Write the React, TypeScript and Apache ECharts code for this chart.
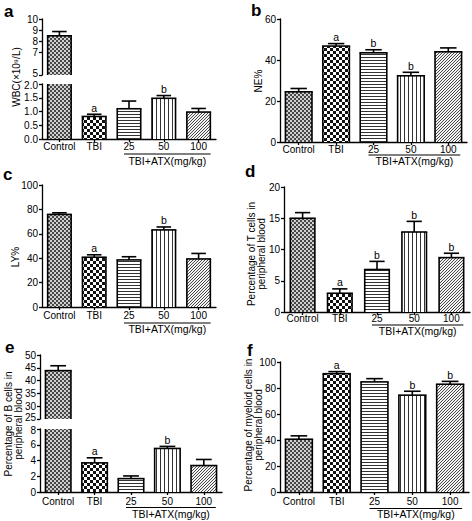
import React, { useEffect, useRef } from 'react';
import * as echarts from 'echarts';

const FONT = '"Liberation Sans", Arial, sans-serif';

const categories = ['Control', 'TBI', '25', '50', '100'];
const groupLabel = 'TBI+ATX(mg/kg)';

// a: WBC
const wbcMean = [8.5, 0.82, 1.1, 1.48, 0.98];
const wbcSem = [0.38, 0.08, 0.28, 0.1, 0.13];
const wbcSig = ['', 'a', '', 'b', ''];
// b: NE%
const neMean = [24.5, 46.8, 43.5, 32.3, 44.0];
const neSem = [1.6, 1.2, 1.5, 1.7, 1.9];
const neSig = ['', 'a', 'b', 'b', ''];
// c: LY%
const lyMean = [75.9, 40.8, 38.6, 63.2, 39.4];
const lySem = [1.3, 2.0, 2.6, 2.4, 4.5];
const lySig = ['', 'a', '', 'b', ''];
// d: T cells
const tMean = [15.0, 3.0, 6.8, 12.8, 8.7];
const tSem = [0.9, 0.7, 1.3, 1.7, 0.7];
const tSig = ['', 'a', 'b', 'b', 'b'];
// e: B cells
const bMean = [43.9, 3.7, 1.7, 5.53, 3.36];
const bSem = [1.9, 0.64, 0.34, 0.26, 0.77];
const bSig = ['', 'a', '', 'b', ''];
// f: myeloid cells
const myMean = [40.6, 91.0, 84.7, 74.5, 82.9];
const mySem = [2.6, 1.6, 2.5, 3.0, 2.2];
const mySig = ['', 'a', '', 'b', 'b'];

// axis ranges (value axes): [min, max, interval]
const wbcUpperRange = [5, 10, 1];
const wbcLowerRange = [0, 2, 0.5];
const neRange = [0, 60, 20];
const lyRange = [0, 100, 20];
const tRange = [0, 20, 5];
const bUpperRange = [25, 50, 5];
const bLowerRange = [0, 8, 2];
const myRange = [0, 100, 20];

type GridDef = { box: number[]; range: number[]; decimals: number; bottom: boolean; part: string };
type Panel = {
  letter: string; letterPos: number[];
  title: string; titlePos: number[];
  mean: number[]; sem: number[]; sig: string[];
  grids: GridDef[]; ratio: number; labelMargin: number; ulOff: number; glOff: number;
};

const panels: Panel[] = [
  {
    letter: 'a', letterPos: [4, 17], title: 'WBC(×10⁹/L)', titlePos: [16, 77],
    mean: wbcMean, sem: wbcSem, sig: wbcSig,
    grids: [
      { box: [42, 19, 174, 56], range: wbcUpperRange, decimals: 0, bottom: false, part: 'upper' },
      { box: [42, 84, 174, 55], range: wbcLowerRange, decimals: 1, bottom: true, part: 'lower' },
    ],
    ratio: 0.675, labelMargin: 2, ulOff: 15, glOff: 22,
  },
  {
    letter: 'b', letterPos: [251, 16], title: 'NE%', titlePos: [258, 81],
    mean: neMean, sem: neSem, sig: neSig,
    grids: [{ box: [280, 19, 187, 123], range: neRange, decimals: 0, bottom: true, part: 'full' }],
    ratio: 0.71, labelMargin: 2, ulOff: 13, glOff: 19,
  },
  {
    letter: 'c', letterPos: [3, 180], title: 'LY%', titlePos: [15, 257],
    mean: lyMean, sem: lySem, sig: lySig,
    grids: [{ box: [42, 185, 174, 122], range: lyRange, decimals: 0, bottom: true, part: 'full' }],
    ratio: 0.675, labelMargin: 3, ulOff: 16, glOff: 22,
  },
  {
    letter: 'd', letterPos: [245, 177], title: 'Percentage of T cells in\nperipheral blood', titlePos: [256, 254],
    mean: tMean, sem: tSem, sig: tSig,
    grids: [{ box: [284, 187, 186, 125], range: tRange, decimals: 0, bottom: true, part: 'full' }],
    ratio: 0.66, labelMargin: 1, ulOff: 13, glOff: 19,
  },
  {
    letter: 'e', letterPos: [5, 353], title: 'Percentage of B cells in\nperipheral blood', titlePos: [13, 424],
    mean: bMean, sem: bSem, sig: bSig,
    grids: [
      { box: [40, 355, 182, 64], range: bUpperRange, decimals: 0, bottom: false, part: 'upper' },
      { box: [40, 429, 182, 63], range: bLowerRange, decimals: 0, bottom: true, part: 'lower' },
    ],
    ratio: 0.7, labelMargin: 4, ulOff: 15.5, glOff: 21.5,
  },
  {
    letter: 'f', letterPos: [247, 356], title: 'Percentage of myeloid cells in\nperipheral blood', titlePos: [253, 425],
    mean: myMean, sem: mySem, sig: mySig,
    grids: [{ box: [280, 362, 189, 130], range: myRange, decimals: 0, bottom: true, part: 'full' }],
    ratio: 0.71, labelMargin: 4, ulOff: 16.5, glOff: 22,
  },
];

function makePattern(w: number, h: number, dark: string, light: string, isDark: (x: number, y: number) => boolean) {
  const c = document.createElement('canvas');
  c.width = w;
  c.height = h;
  const ctx = c.getContext('2d')!;
  ctx.fillStyle = light;
  ctx.fillRect(0, 0, w, h);
  ctx.fillStyle = dark;
  for (let y = 0; y < h; y++) for (let x = 0; x < w; x++) if (isDark(x, y)) ctx.fillRect(x, y, 1, 1);
  return { image: c.toDataURL(), repeat: 'repeat', imageWidth: w, imageHeight: h } as any;
}

export default function App() {
  const ref = useRef<HTMLDivElement>(null);
  useEffect(() => {
    const el = ref.current!;
    const chart = echarts.init(el, undefined, { renderer: 'svg', width: 472, height: 521 });

    const patterns = [
      makePattern(4, 4, '#474747', '#cfcfcf', (x, y) => ((x >> 1) + (y >> 1)) % 2 === 0),
      makePattern(6, 6, '#111111', '#ffffff', (x, y) => (Math.floor(x / 3) + Math.floor(y / 3)) % 2 === 0),
      makePattern(2, 3, '#333333', '#ffffff', (_x, y) => y === 0),
      makePattern(4, 2, '#333333', '#ffffff', (x) => x === 0),
      makePattern(3, 3, '#4a4a4a', '#f2f2f2', (x, y) => (x + y) % 3 === 2),
    ];

    const axisLine = { color: '#000', width: 1.3 };
    const grids: any[] = [];
    const xAxes: any[] = [];
    const yAxes: any[] = [];
    const series: any[] = [];
    const bottomIndex: number[] = [];

    panels.forEach((p) => {
      p.grids.forEach((g) => {
        const k = grids.length;
        grids.push({ left: g.box[0], top: g.box[1], width: g.box[2], height: g.box[3], containLabel: false });
        if (g.bottom) bottomIndex.push(k);
        xAxes.push({
          type: 'category', gridIndex: k, data: categories, show: g.bottom, boundaryGap: true,
          axisLine: { show: true, onZero: false, lineStyle: axisLine },
          axisTick: { show: true, alignWithLabel: true, length: 3, lineStyle: axisLine },
          axisLabel: { color: '#000', fontSize: 10, fontFamily: FONT, margin: p.labelMargin, interval: 0 },
          splitLine: { show: false },
        });
        const dec = g.decimals;
        const gmin = g.range[0];
        const gmax = g.range[1];
        const part = g.part;
        yAxes.push({
          type: 'value', gridIndex: k, min: gmin, max: gmax, interval: g.range[2],
          axisLine: { show: true, onZero: false, lineStyle: axisLine },
          axisTick: { show: true, length: 3, lineStyle: axisLine },
          axisLabel: {
            color: '#000', fontSize: 10, lineHeight: 8, fontFamily: FONT, margin: 4,
            showMinLabel: true, showMaxLabel: true, hideOverlap: false,
            formatter: (v: number) => {
              const t = v.toFixed(dec);
              if (part === 'upper' && Math.abs(v - gmin) < 1e-9) return `{up|${t}}`;
              if (part === 'lower' && Math.abs(v - gmax) < 1e-9) return `{dn|${t}}`;
              return t;
            },
            rich: {
              up: { fontSize: 10, lineHeight: 8, fontFamily: FONT, color: '#000', padding: [0, 0, 3, 0] },
              dn: { fontSize: 10, lineHeight: 8, fontFamily: FONT, color: '#000', padding: [3, 0, 0, 0] },
            },
          },
          splitLine: { show: false },
        });
        const sig = p.sig;
        const ratio = p.ratio;
        series.push({
          type: 'custom', coordinateSystem: 'cartesian2d', xAxisIndex: k, yAxisIndex: k,
          silent: true, z: 3,
          encode: { x: 0, y: 1 },
          data: p.mean.map((m, i) => [i, m, p.sem[i]]),
          renderItem: (params: any, api: any) => {
            const idx = api.value(0);
            const val = api.value(1);
            const err = api.value(2);
            const cs = params.coordSys;
            const band = api.size([1, 0])[0];
            const w = band * ratio;
            const pt = api.coord([idx, val]);
            const cx = pt[0];
            const yTop = pt[1];
            const yBase = api.coord([idx, 0])[1];
            const gTop = cs.y;
            const gBot = cs.y + cs.height;
            const top = Math.max(yTop, gTop);
            const bot = Math.min(yBase, gBot);
            const x0 = cx - w / 2;
            const x1 = cx + w / 2;
            const children: any[] = [];
            const stroke = { stroke: '#000', lineWidth: 1.6 };
            if (bot > top) {
              children.push({ type: 'rect', shape: { x: x0, y: top, width: w, height: bot - top }, style: { fill: patterns[idx], stroke: 'none' } });
              children.push({ type: 'line', shape: { x1: x0, y1: top, x2: x0, y2: bot }, style: stroke });
              children.push({ type: 'line', shape: { x1: x1, y1: top, x2: x1, y2: bot }, style: stroke });
            }
            const visible = yTop >= gTop - 0.5 && yTop <= gBot + 0.5;
            if (visible) {
              const yErr = api.coord([idx, val + err])[1];
              const capW = w * 0.62;
              children.push({ type: 'line', shape: { x1: cx, y1: yTop, x2: cx, y2: yErr }, style: stroke });
              children.push({ type: 'line', shape: { x1: cx - capW / 2, y1: yErr, x2: cx + capW / 2, y2: yErr }, style: stroke });
              children.push({ type: 'line', shape: { x1: x0 - 0.8, y1: yTop, x2: x1 + 0.8, y2: yTop }, style: stroke });
              const s = sig[idx];
              if (s) {
                children.push({
                  type: 'text', x: cx, y: yErr - 1,
                  style: { text: s, fill: '#000', fontSize: 10.5, fontFamily: FONT, align: 'center', verticalAlign: 'bottom' },
                });
              }
            }
            return { type: 'group', children };
          },
        });
      });
    });

    chart.setOption({
      animation: false,
      backgroundColor: '#fff',
      grid: grids,
      xAxis: xAxes,
      yAxis: yAxes,
      series,
    });

    const graphic: any[] = [];
    panels.forEach((p, pi) => {
      const k = bottomIndex[pi];
      const p25 = chart.convertToPixel({ gridIndex: k } as any, [2, p.grids[p.grids.length - 1].range[0]]) as any;
      const p100 = chart.convertToPixel({ gridIndex: k } as any, [4, p.grids[p.grids.length - 1].range[0]]) as any;
      const ax = p25[1];
      const ux1 = p25[0] - 5;
      const ux2 = p100[0] + 12;
      graphic.push({
        type: 'line', shape: { x1: ux1, y1: ax + p.ulOff, x2: ux2, y2: ax + p.ulOff },
        style: { stroke: '#000', lineWidth: 1.2 },
      });
      graphic.push({
        type: 'text', x: (ux1 + ux2) / 2, y: ax + p.glOff,
        style: { text: groupLabel, fill: '#000', fontSize: 10.5, fontFamily: FONT, align: 'center', verticalAlign: 'middle' },
      });
      graphic.push({
        type: 'text', x: p.letterPos[0], y: p.letterPos[1] - 6,
        style: { text: p.letter, fill: '#000', fontSize: 17, fontWeight: 'bold', fontFamily: FONT, align: 'left', verticalAlign: 'middle' },
      });
      graphic.push({
        type: 'text', x: p.titlePos[0], y: p.titlePos[1], rotation: Math.PI / 2,
        style: { text: p.title, fill: '#000', fontSize: 10, lineHeight: 10, fontFamily: FONT, align: 'center', verticalAlign: 'middle' },
      });
    });
    chart.setOption({ graphic });

    return () => chart.dispose();
  }, []);
  return <div ref={ref} style={{ position: 'fixed', left: 0, top: 0, width: 472, height: 521, background: '#fff' }} />;
}
